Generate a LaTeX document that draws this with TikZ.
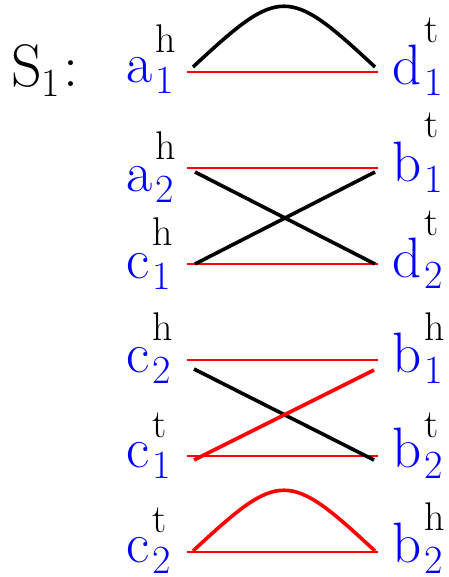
\documentclass[tikz,border=0pt]{standalone}
\usepackage{xcolor}

% letter with subscript and superscript
\newcommand{\vtx}[4]{\textcolor{blue}{#1}\kern3pt\rlap{\raisebox{-11pt}{\fontsize{40}{40}\selectfont\textcolor{blue}{#2}}}\raisebox{#4pt}{\fontsize{40}{40}\selectfont #3}}

\tikzset{
  vlabel/.style={anchor=base west, inner sep=0pt, font=\fontsize{57}{57}\selectfont},
  redline/.style={red, line width=2.4pt},
  blackedge/.style={black, line width=3.6pt},
  rededge/.style={red, line width=3.6pt}
}

\begin{document}
\begin{tikzpicture}[x=1pt,y=-1pt]

	\useasboundingbox (0,0) rectangle (448,577);

	\node[vlabel, font=\fontsize{60}{60}\selectfont] (S) at (11,87) {S\raisebox{-10pt}{\fontsize{40}{40}\selectfont 1}\kern3pt:};

	% left column
	\foreach \n/\y/\l/\s/\u/\r in {
		1/83/a/1/h/30,
		2/192/a/2/h/32,
		3/278/c/1/h/33,
		4/372/c/2/h/32,
		5/467/c/1/t/30,
		6/562/c/2/t/30
	}
	{
		\node[vlabel] (L\n) at (126,\y) {\vtx{\l}{\s}{\u}{\r}};
	}

	% right column
	\foreach \n/\y/\l/\s/\u/\r in {
		1/85/d/1/t/42,
		2/182/b/1/t/44,
		3/277/d/2/t/42,
		4/372/b/1/h/32,
		5/467/b/2/t/30,
		6/562/b/2/h/32
	}
	{
		\node[vlabel] (R\n) at (392,\y) {\vtx{\l}{\s}{\u}{\r}};
	}

	% red matching lines
	\foreach \n/\y in {1/72, 2/168, 3/264, 4/360, 5/456, 6/552}
	{
		\coordinate (lp\n) at (187,\y);
		\coordinate (rp\n) at (378,\y);
		\draw[redline] (lp\n) -- (rp\n);
	}

	% edge ends
	\coordinate (la1) at (193,67);  \coordinate (ra1) at (375,67);
	\coordinate (la2) at (195,172); \coordinate (ra2) at (375,172);
	\coordinate (la3) at (195,264); \coordinate (ra3) at (375,264);
	\coordinate (la4) at (194,369); \coordinate (ra4) at (374,370);
	\coordinate (la5) at (194,460); \coordinate (ra5) at (374,460);
	\coordinate (la6) at (193,551); \coordinate (ra6) at (375,551);

	\draw[blackedge] (la1) .. controls +(87,-81) and +(-87,-81) .. (ra1);
	\draw[blackedge] (la2) -- (ra3);
	\draw[blackedge] (la3) -- (ra2);
	\draw[blackedge] (la4) -- (ra5);
	\draw[rededge] (la5) -- (ra4);
	\draw[rededge] (la6) .. controls +(87,-81) and +(-87,-81) .. (ra6);

\end{tikzpicture}
\end{document}
